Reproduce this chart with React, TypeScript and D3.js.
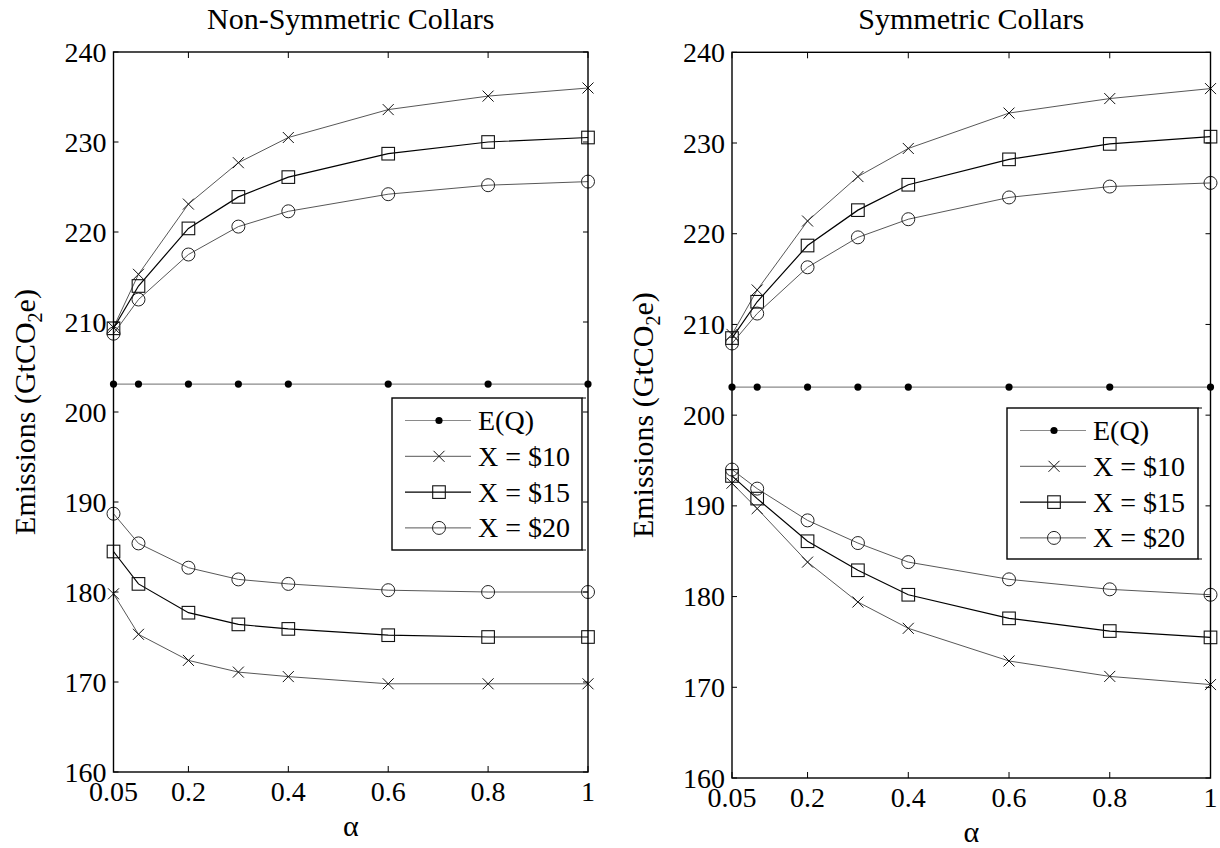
import React from 'react';
import * as d3 from 'd3';

// alpha values on the x axis
const alphas = [0.05, 0.1, 0.2, 0.3, 0.4, 0.6, 0.8, 1];
const xTicks = [0.05, 0.2, 0.4, 0.6, 0.8, 1];
const yTicks = [160, 170, 180, 190, 200, 210, 220, 230, 240];
const xTickLabels = ['0.05', '0.2', '0.4', '0.6', '0.8', '1'];

// Non-symmetric collars
const nsEQ = [203.1, 203.1, 203.1, 203.1, 203.1, 203.1, 203.1, 203.1];
const nsUpper10 = [209.4, 215.3, 223.1, 227.7, 230.5, 233.6, 235.1, 236.0];
const nsUpper15 = [209.3, 214.0, 220.4, 223.9, 226.1, 228.7, 230.0, 230.5];
const nsUpper20 = [208.7, 212.5, 217.5, 220.6, 222.3, 224.2, 225.2, 225.6];
const nsLower10 = [179.8, 175.3, 172.4, 171.1, 170.6, 169.8, 169.8, 169.8];
const nsLower15 = [184.5, 180.9, 177.7, 176.4, 175.9, 175.2, 175.0, 175.0];
const nsLower20 = [188.7, 185.4, 182.7, 181.4, 180.9, 180.2, 180.0, 180.0];

// Symmetric collars
const sEQ = [203.1, 203.1, 203.1, 203.1, 203.1, 203.1, 203.1, 203.1];
const sUpper10 = [208.9, 213.8, 221.4, 226.3, 229.4, 233.3, 234.9, 236.0];
const sUpper15 = [208.5, 212.5, 218.7, 222.6, 225.4, 228.2, 229.9, 230.7];
const sUpper20 = [207.9, 211.2, 216.3, 219.6, 221.6, 224.0, 225.2, 225.6];
const sLower10 = [192.5, 189.7, 183.8, 179.4, 176.5, 172.9, 171.2, 170.3];
const sLower15 = [193.3, 190.8, 186.1, 182.9, 180.2, 177.6, 176.2, 175.5];
const sLower20 = [194.0, 191.9, 188.4, 185.9, 183.8, 181.9, 180.8, 180.2];

const legendLabels = ['E(Q)', 'X = $10', 'X = $15', 'X = $20'];
const markerTypes = ['dot', 'cross', 'square', 'circle'];

const FONT = '"Liberation Serif", "Times New Roman", serif';

const STYLE = {
  dot: { stroke: '#8a8a8a', width: 1.2 },
  cross: { stroke: '#444', width: 0.9 },
  square: { stroke: '#000', width: 1.2 },
  circle: { stroke: '#444', width: 0.9 },
};

const Marker = ({ type, x, y }) => {
  if (type === 'dot') return <circle cx={x} cy={y} r={3.6} fill="#000" />;
  if (type === 'cross')
    return (
      <g stroke="#111" strokeWidth={1}>
        <line x1={x - 5.5} y1={y - 5.5} x2={x + 5.5} y2={y + 5.5} />
        <line x1={x - 5.5} y1={y + 5.5} x2={x + 5.5} y2={y - 5.5} />
      </g>
    );
  if (type === 'square')
    return <rect x={x - 6.3} y={y - 6.3} width={12.6} height={12.6} fill="none" stroke="#111" strokeWidth={1.1} />;
  return <circle cx={x} cy={y} r={6.5} fill="none" stroke="#222" strokeWidth={1} />;
};

const Panel = ({ title, box, legend, series }) => {
  const x = d3.scaleLinear().domain([0.05, 1]).range([box.x0, box.x1]);
  const y = d3.scaleLinear().domain([160, 240]).range([box.y1, box.y0]);
  const line = d3
    .line<number>()
    .x((_, i) => x(alphas[i]))
    .y((d) => y(d));

  const midX = (box.x0 + box.x1) / 2;
  const midY = (box.y0 + box.y1) / 2;
  const labX = box.x0 - 79;

  return (
    <g fontFamily={FONT} fill="#000">
      <text x={midX} y={29} textAnchor="middle" fontSize={30}>{title}</text>

      {/* data lines first */}
      {series.map((s, si) => (
        <g key={si}>
          <path d={line(s.values)} fill="none" stroke={STYLE[s.type].stroke} strokeWidth={STYLE[s.type].width} />
          {s.values.map((v, i) => (
            <Marker key={i} type={s.type} x={x(alphas[i])} y={y(v)} />
          ))}
        </g>
      ))}

      {/* frame */}
      <rect x={box.x0} y={box.y0} width={box.x1 - box.x0} height={box.y1 - box.y0} fill="none" stroke="#000" strokeWidth={1.4} />

      {/* x ticks */}
      {xTicks.map((t, i) => (
        <g key={t}>
          <line x1={x(t)} x2={x(t)} y1={box.y1} y2={box.y1 - 6} stroke="#000" />
          <line x1={x(t)} x2={x(t)} y1={box.y0} y2={box.y0 + 6} stroke="#000" />
          <text x={x(t)} y={box.y1 + 29} textAnchor="middle" fontSize={28}>{xTickLabels[i]}</text>
        </g>
      ))}

      {/* y ticks */}
      {yTicks.map((t) => (
        <g key={t}>
          <line x1={box.x0} x2={box.x0 + 5} y1={y(t)} y2={y(t)} stroke="#000" />
          <line x1={box.x1} x2={box.x1 - 5} y1={y(t)} y2={y(t)} stroke="#000" />
          <text x={box.x0 - 7} y={y(t)} dy="0.34em" textAnchor="end" fontSize={28}>{t}</text>
        </g>
      ))}

      <text x={midX} y={box.y1 + 64} textAnchor="middle" fontSize={30}>α</text>

      <text transform={`translate(${labX},${midY}) rotate(-90)`} textAnchor="middle" fontSize={30}>
        Emissions (GtCO<tspan fontSize={20} dy={7}>2</tspan><tspan dy={-7}>e)</tspan>
      </text>

      {/* legend */}
      <g>
        <rect x={legend.x} y={legend.y} width={legend.w} height={legend.h} fill="#fff" stroke="#000" strokeWidth={1.4} />
        <line x1={legend.x + legend.w} x2={legend.x + legend.w + 4} y1={legend.y} y2={legend.y} stroke="#000" />
        <line x1={legend.x + legend.w} x2={legend.x + legend.w + 4} y1={legend.y + legend.h} y2={legend.y + legend.h} stroke="#000" />
        {legendLabels.map((lab, i) => {
          const ry = legend.y + 22.5 + i * 35.8;
          const t = markerTypes[i];
          return (
            <g key={lab}>
              <line x1={legend.x + 13} x2={legend.x + 79} y1={ry} y2={ry} stroke={STYLE[t].stroke} strokeWidth={STYLE[t].width} />
              <Marker type={t} x={legend.x + 47} y={ry} />
              <text x={legend.x + 86} y={ry} dy="0.34em" fontSize={28}>{lab}</text>
            </g>
          );
        })}
      </g>
    </g>
  );
};

const nsSeries = [
  { type: 'dot', values: nsEQ },
  { type: 'cross', values: nsUpper10 },
  { type: 'cross', values: nsLower10 },
  { type: 'square', values: nsUpper15 },
  { type: 'square', values: nsLower15 },
  { type: 'circle', values: nsUpper20 },
  { type: 'circle', values: nsLower20 },
];

const sSeries = [
  { type: 'dot', values: sEQ },
  { type: 'cross', values: sUpper10 },
  { type: 'cross', values: sLower10 },
  { type: 'square', values: sUpper15 },
  { type: 'square', values: sLower15 },
  { type: 'circle', values: sUpper20 },
  { type: 'circle', values: sLower20 },
];

const App = () => {
  return (
    <svg width={1220} height={848} style={{ position: 'absolute', left: 0, top: 0, background: '#fff' }}>
      <Panel
        title="Non-Symmetric Collars"
        box={{ x0: 113.5, x1: 588, y0: 52, y1: 772 }}
        legend={{ x: 392, y: 398, w: 190, h: 152 }}
        series={nsSeries}
      />
      <Panel
        title="Symmetric Collars"
        box={{ x0: 732, x1: 1210.5, y0: 52.3, y1: 778 }}
        legend={{ x: 1007, y: 408, w: 191, h: 151 }}
        series={sSeries}
      />
    </svg>
  );
};

export default App;
